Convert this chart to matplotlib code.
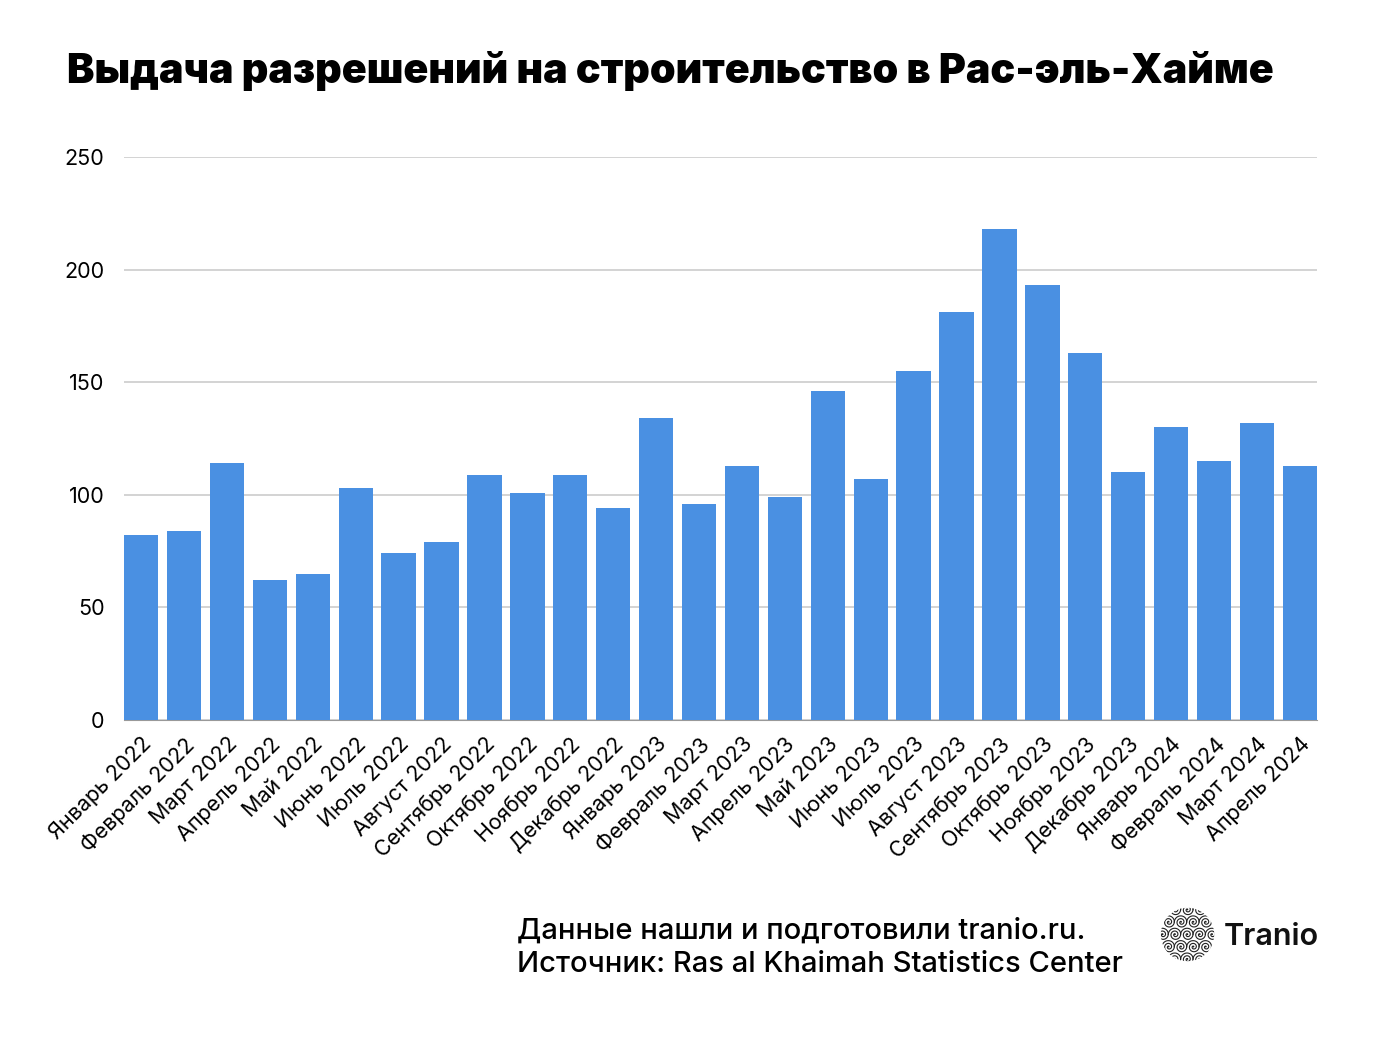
import numpy as np
import matplotlib.pyplot as plt

plt.rcParams['font.family'] = ['Inter', 'DejaVu Sans']

months = ["Январь 2022", "Февраль 2022", "Март 2022", "Апрель 2022", "Май 2022",
          "Июнь 2022", "Июль 2022", "Август 2022", "Сентябрь 2022", "Октябрь 2022",
          "Ноябрь 2022", "Декабрь 2022", "Январь 2023", "Февраль 2023", "Март 2023",
          "Апрель 2023", "Май 2023", "Июнь 2023", "Июль 2023", "Август 2023",
          "Сентябрь 2023", "Октябрь 2023", "Ноябрь 2023", "Декабрь 2023",
          "Январь 2024", "Февраль 2024", "Март 2024", "Апрель 2024"]
permits = [82, 84, 114, 62, 65, 103, 74, 79, 109, 101, 109, 94, 134, 96, 113,
           99, 146, 107, 155, 181, 218, 193, 163, 110, 130, 115, 132, 113]
yticks = [0, 50, 100, 150, 200, 250]

fig = plt.figure(figsize=(13.86, 10.4), dpi=100)
ax = fig.add_axes([124/1386, 1-720/1040, 1193/1386, 563/1040])

x = np.arange(len(months))
ax.bar(x, permits, width=0.8, color='#4a90e2', zorder=3)
ax.set_xlim(-0.4, len(months) - 0.6)
ax.set_ylim(0, 250)
ax.set_yticks(yticks)
ax.yaxis.grid(True, color='#cccccc', linewidth=1.2, zorder=0)
for s in ['top', 'right', 'left']:
    ax.spines[s].set_visible(False)
ax.spines['bottom'].set_color('#999999')
ax.tick_params(axis='both', length=0, labelsize=15.5, colors='black')
ax.tick_params(axis='y', pad=14)
ax.set_xticks(x)
ax.set_xticklabels(months, rotation=45, ha='right', rotation_mode='anchor')
ax.tick_params(axis='x', pad=10)

fig.text(67/1386, 1-71/1040, "Выдача разрешений на строительство в Рас-эль-Хайме",
         fontsize=29.7, fontweight='black', va='center', ha='left')

fig.text(517/1386, 1-931/1040, "Данные нашли и подготовили tranio.ru.",
         fontsize=21, fontweight='medium', va='center', ha='left')
fig.text(517/1386, 1-964/1040, "Источник: Ras al Khaimah Statistics Center",
         fontsize=21, fontweight='medium', va='center', ha='left')

# logo: circle filled with small spirals
lax = fig.add_axes([1160/1386, 1-962/1040, 55/1386, 55/1040])
lax.set_xlim(-1, 1)
lax.set_ylim(-1, 1)
lax.set_aspect('equal')
lax.axis('off')
t = np.linspace(0, 5 * np.pi, 200)
clip = plt.Circle((0, 0), 0.97, transform=lax.transData)
for i, cy in enumerate(np.arange(-0.9, 1.0, 0.45)):
    off = 0.22 if i % 2 else 0.0
    for cx in np.arange(-0.9 + off, 1.0, 0.45):
        r = 0.016 * t
        line, = lax.plot(cx + r * np.cos(t), cy + r * np.sin(t),
                         color='#222222', lw=0.8)
        line.set_clip_path(clip)
fig.text(1224/1386, 1-937/1040, "Tranio", fontsize=22, fontweight='semibold',
         va='center', ha='left', color='#111111')

fig.savefig("out.png", dpi=100, facecolor='white')
